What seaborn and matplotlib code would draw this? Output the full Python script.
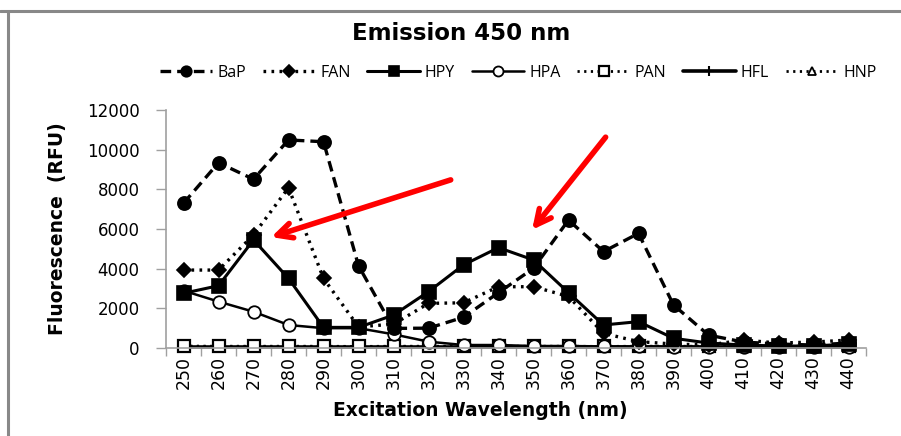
import matplotlib
matplotlib.use("Agg")
import matplotlib.pyplot as plt
import seaborn as sns
import pandas as pd
from matplotlib.lines import Line2D

sns.set_theme(style="white")
plt.rcParams['font.family'] = ['DejaVu Sans']
plt.rcParams['text.color'] = 'black'
plt.rcParams['axes.labelcolor'] = 'black'
plt.rcParams['xtick.labelcolor'] = 'black'
plt.rcParams['ytick.labelcolor'] = 'black'

wavelengths = [250, 260, 270, 280, 290, 300, 310, 320, 330, 340,
               350, 360, 370, 380, 390, 400, 410, 420, 430, 440]
BaP = [7300, 9340, 8510, 10490, 10400, 4150, 990, 1000, 1550, 2790,
       4020, 6450, 4860, 5780, 2170, 650, 300, 200, 150, 250]
FAN = [3930, 3930, 5700, 8080, 3510, 1070, 1200, 2250, 2280, 3090,
       3090, 2600, 740, 320, 200, 150, 400, 250, 300, 400]
HPY = [2760, 3140, 5450, 3510, 1040, 1040, 1660, 2840, 4190, 5060,
       4440, 2790, 1160, 1330, 490, 250, 150, 100, 100, 200]
HPA = [2890, 2340, 1830, 1160, 1000, 1000, 690, 320, 150, 150,
       100, 100, 80, 80, 70, 60, 60, 50, 50, 50]
PAN = [100, 90, 90, 90, 90, 80, 90, 90, 90, 90,
       90, 90, 80, 90, 90, 90, 90, 90, 90, 90]
HFL = [30, 30, 30, 30, 30, 30, 30, 30, 30, 30,
       30, 30, 30, 30, 30, 30, 30, 30, 30, 30]
HNP = [70, 70, 70, 70, 70, 60, 70, 70, 70, 70,
       70, 70, 60, 70, 70, 70, 70, 70, 70, 70]

series = {"BaP": BaP, "FAN": FAN, "HPY": HPY, "HPA": HPA,
          "PAN": PAN, "HFL": HFL, "HNP": HNP}

styles = {
    "BaP": dict(ls=(0, (3.2, 1.8)), lw=2.4, marker="o", ms=9.5, mfc="black", mew=1.2),
    "FAN": dict(ls=(0, (0.8, 1.6)), lw=2.4, marker="D", ms=7.5, mfc="black", mew=1.2),
    "HPY": dict(ls="-", lw=2.2, marker="s", ms=9.5, mfc="black", mew=1.2),
    "HPA": dict(ls="-", lw=1.8, marker="o", ms=9, mfc="white", mew=1.3),
    "PAN": dict(ls=(0, (0.8, 1.6)), lw=2.0, marker="s", ms=8.5, mfc="white", mew=1.6),
    "HFL": dict(ls="-", lw=2.6, marker="+", ms=9, mfc="black", mew=1.5),
    "HNP": dict(ls=(0, (0.8, 1.6)), lw=2.0, marker="^", ms=7, mfc="white", mew=1.3),
}

fig = plt.figure(figsize=(9.01, 4.36), dpi=100)
ax = fig.add_axes([166 / 901, 1 - 348 / 436, 700 / 901, (348 - 110) / 436])

pos = list(range(len(wavelengths)))
order = ["HNP", "HFL", "PAN", "HPA", "FAN", "HPY", "BaP"]
for name in order:
    st = styles[name]
    df = pd.DataFrame({"x": pos, "y": series[name]})
    sns.lineplot(data=df, x="x", y="y", ax=ax, color="black",
                 linestyle=st["ls"], linewidth=st["lw"], marker=st["marker"],
                 markersize=st["ms"], markerfacecolor=st["mfc"],
                 markeredgecolor="black", markeredgewidth=st["mew"],
                 legend=False, clip_on=False)

ax.set_xlim(-0.5, len(wavelengths) - 0.5)
ax.set_ylim(0, 12000)
ax.set_yticks([0, 2000, 4000, 6000, 8000, 10000, 12000])
ax.set_yticklabels(["0", "2000", "4000", "6000", "8000", "10000", "12000"])
ax.set_xticks(pos)
ax.set_xticklabels([str(w) for w in wavelengths], rotation=90)
ax.set_xticks([p - 0.5 for p in pos] + [len(pos) - 0.5], minor=True)
ax.tick_params(axis="x", which="major", length=0, pad=6, labelsize=12.5)
ax.tick_params(axis="x", which="minor", length=6, color="#a0a0a0", width=1, direction="out")
ax.tick_params(axis="y", length=7, color="#a0a0a0", width=1, direction="out", labelsize=12, pad=12)
ax.tick_params(axis="x", bottom=True, which="both")
ax.tick_params(axis="y", left=True)

for s in ["top", "right"]:
    ax.spines[s].set_visible(False)
for s in ["left", "bottom"]:
    ax.spines[s].set_color("#a0a0a0")
    ax.spines[s].set_linewidth(1.2)

ax.set_xlabel("Excitation Wavelength (nm)", fontsize=13.5, fontweight="bold")
ax.xaxis.set_label_coords((480 - 166) / 700, -(410 - 348) / 238)
ax.xaxis.label.set_va("center")
ax.set_ylabel("Fluorescence  (RFU)", fontsize=13.5, fontweight="bold")
ax.yaxis.set_label_coords(-(166 - 57) / 700, 0.5)
ax.yaxis.label.set_va("center")

fig.text(461 / 901, 1 - 33 / 436, "Emission 450 nm", ha="center", va="center",
         fontsize=16.5, fontweight="bold")

handles = []
for name in ["BaP", "FAN", "HPY", "HPA", "PAN", "HFL", "HNP"]:
    st = styles[name]
    handles.append(Line2D([], [], color="black", linestyle=st["ls"], linewidth=st["lw"],
                          marker=st["marker"], markersize=st["ms"] * 0.8,
                          markerfacecolor=st["mfc"], markeredgecolor="black",
                          markeredgewidth=st["mew"], label=name))
fig.legend(handles=handles, loc="center", bbox_to_anchor=(518 / 901, 1 - 73 / 436),
           ncol=7, frameon=False, handlelength=3.3, handletextpad=0.3,
           columnspacing=1.05, prop={"family": ["Open Sans", "DejaVu Sans"], "size": 11.5})

# red arrows
ax.annotate("", xy=(2.43, 5550), xytext=(7.71, 8520),
            arrowprops=dict(arrowstyle="->, head_length=0.9, head_width=0.45",
                            color="red", lw=4))
ax.annotate("", xy=(9.91, 5850), xytext=(12.11, 10740),
            arrowprops=dict(arrowstyle="->, head_length=0.9, head_width=0.45",
                            color="red", lw=4), annotation_clip=False)

# frame lines (top and left)
fig.add_artist(Line2D([0, 1], [1 - 11 / 436, 1 - 11 / 436], transform=fig.transFigure,
                      color="#888888", lw=2.2))
fig.add_artist(Line2D([8 / 901, 8 / 901], [0, 1 - 11 / 436], transform=fig.transFigure,
                      color="#888888", lw=2.2))

fig.savefig("out.png", dpi=100)
